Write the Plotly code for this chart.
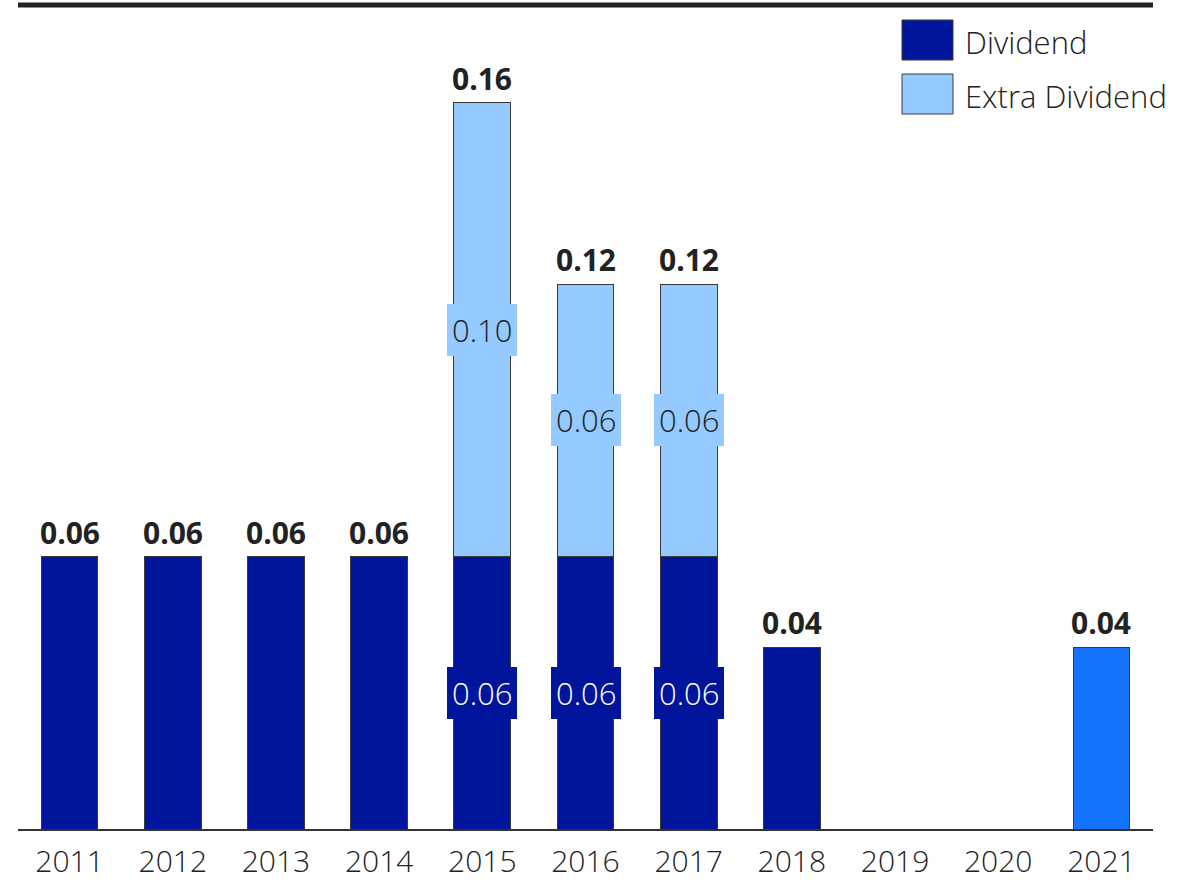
import plotly.graph_objects as go

# Dividend per share by year
years = ["2011", "2012", "2013", "2014", "2015", "2016", "2017", "2018", "2019", "2020", "2021"]
dividend = [0.06, 0.06, 0.06, 0.06, 0.06, 0.06, 0.06, 0.04, None, None, 0.04]
extra_dividend = [None, None, None, None, 0.10, 0.06, 0.06, None, None, None, None]

DARK = "#00149C"
LIGHT = "#94CAFF"
BRIGHT = "#1574FF"
EDGE = "#3a3a3a"
TEXT = "#222222"
FONT = "Open Sans"
SIZE = 31

pos = list(range(len(years)))
div_colors = [BRIGHT if y == "2021" else DARK for y in years]

fig = go.Figure()
fig.add_trace(go.Bar(
    x=pos, y=dividend, name="Dividend",
    marker=dict(color=div_colors, line=dict(color=EDGE, width=1)),
))
fig.add_trace(go.Bar(
    x=pos, y=extra_dividend, name="Extra Dividend",
    marker=dict(color=LIGHT, line=dict(color=EDGE, width=1)),
))

annotations = []
for i, d, e in zip(pos, dividend, extra_dividend):
    total = (d or 0) + (e or 0)
    if total > 0:
        annotations.append(dict(
            x=i, y=total, text=f"<b>{total:.2f}</b>", showarrow=False,
            yanchor="bottom", yshift=2,
            font=dict(family=FONT, size=SIZE - 1, color=TEXT, weight=800),
        ))
    if e:
        # segment values, boxed in the segment colour
        annotations.append(dict(
            x=i, y=d / 2, text=f"{d:.2f}", showarrow=False,
            bgcolor=DARK, bordercolor=DARK, borderwidth=1, borderpad=4,
            font=dict(family=FONT, size=SIZE, color="#ffffff", weight=300),
        ))
        annotations.append(dict(
            x=i, y=d + e / 2, text=f"{e:.2f}", showarrow=False,
            bgcolor=LIGHT, bordercolor=LIGHT, borderwidth=1, borderpad=4,
            font=dict(family=FONT, size=SIZE, color=TEXT, weight=300),
        ))


def px_to_paper_x(px):
    return (px - 18) / 1135


def px_to_paper_y(py):
    return (829 - py) / 824


# heavy rule along the top of the plot area
shapes = [dict(type="line", xref="paper", yref="paper", x0=0, x1=1, y0=1, y1=1,
               line=dict(color=TEXT, width=5))]

# legend swatches and labels
legend_items = [("Dividend", DARK), ("Extra Dividend", LIGHT)]
for k, (label, color) in enumerate(legend_items):
    y_top = 20 + k * 54
    shapes.append(dict(type="rect", xref="paper", yref="paper",
                       x0=px_to_paper_x(902), x1=px_to_paper_x(953),
                       y0=px_to_paper_y(y_top + 40), y1=px_to_paper_y(y_top),
                       fillcolor=color, line=dict(color=EDGE, width=1)))
    annotations.append(dict(
        xref="paper", yref="paper", x=px_to_paper_x(963), y=px_to_paper_y(y_top + 22),
        text=label, showarrow=False, xanchor="left", yanchor="middle",
        font=dict(family=FONT, size=SIZE, color=TEXT, weight=300),
    ))

fig.update_layout(
    width=1204, height=880,
    margin=dict(l=18, r=51, t=5, b=51, autoexpand=False),
    paper_bgcolor="white", plot_bgcolor="white",
    barmode="stack", bargap=0.45,
    showlegend=False,
    annotations=annotations,
    shapes=shapes,
    xaxis=dict(
        range=[-0.5, len(years) - 0.5], tickvals=pos, ticktext=years,
        showgrid=False, zeroline=False, automargin=False,
        showline=True, linecolor="#333333", linewidth=2,
        ticks="", ticklabelstandoff=5,
        tickfont=dict(family=FONT, size=SIZE - 1, color=TEXT, weight=300),
    ),
    yaxis=dict(range=[0, 0.1815], visible=False, fixedrange=True),
)

fig.write_html("out.html")
